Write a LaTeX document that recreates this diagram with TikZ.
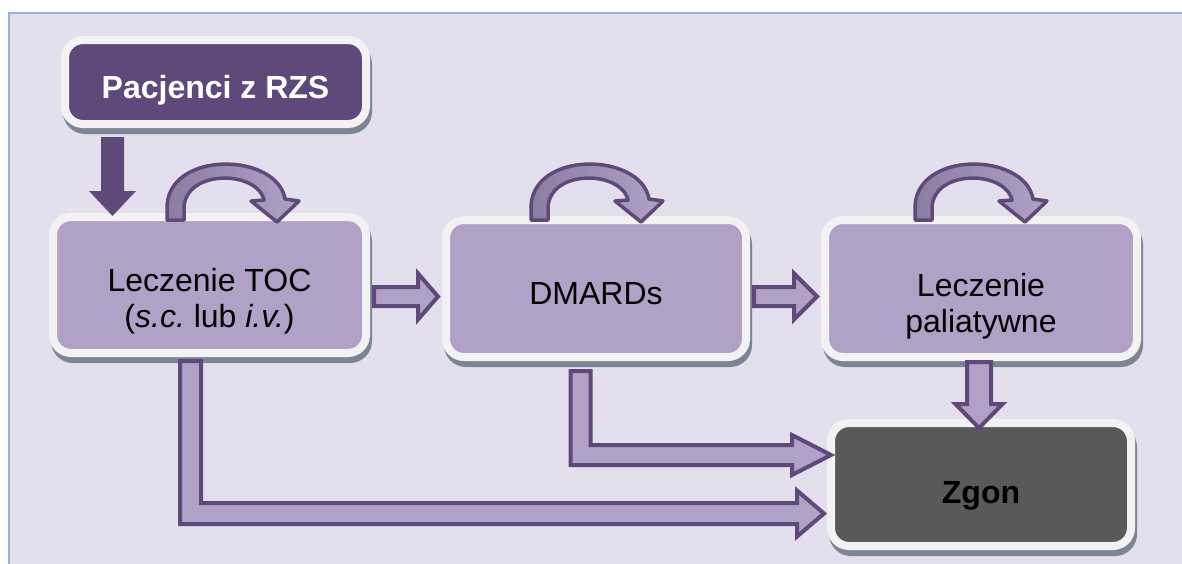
\documentclass[tikz,border=0pt]{standalone}
\usepackage{fontspec}
\setmainfont{Liberation Sans}
\usetikzlibrary{calc,shadows}
\frenchspacing

\definecolor{panelc}{HTML}{E4DFEC}
\definecolor{framec}{HTML}{95B3D7}
\definecolor{boxc}{HTML}{B2A1C7}
\definecolor{darkc}{HTML}{5F497A}
\definecolor{rimc}{HTML}{F2F2F2}
\definecolor{shadec}{HTML}{7D8595}
\definecolor{deathc}{HTML}{595959}
\definecolor{loopc}{HTML}{8C7CA2}

\tikzset{
  stage/.style={rectangle, rounded corners=18pt, draw=rimc, line width=8pt,
    fill=boxc, inner sep=0pt,
    general shadow={fill=shadec, draw=shadec, line width=8pt,
      shadow xshift=2pt, shadow yshift=-6pt}},
  startbox/.style={stage, fill=darkc},
  endbox/.style={stage, fill=deathc},
  caption/.style={inner sep=0pt, align=center, text=black,
    font=\fontsize{32}{36}\selectfont},
  boldcaption/.style={caption, font=\fontsize{32}{36}\selectfont\bfseries},
  blockbody/.style={draw=darkc, fill=boxc, line width=4pt, line join=miter},
  solidbody/.style={fill=darkc},
  loopbody/.style={draw=darkc, line width=3.5pt, line join=round,
    left color=loopc, right color=boxc},
}

% horizontal block arrow: from, to, half shaft, half head, head length, style
\newcommand\harrow[6]{%
  \path[#6] let \p1=(#1), \p2=(#2) in
    (\x1,\y2+#3) -- (\x2-#5,\y2+#3) -- (\x2-#5,\y2+#4) -- (\x2,\y2)
    -- (\x2-#5,\y2-#4) -- (\x2-#5,\y2-#3) -- (\x1,\y2-#3) -- cycle;}
% downward block arrow
\newcommand\varrow[6]{%
  \path[#6] let \p1=(#1), \p2=(#2) in
    (\x1-#3,\y1) -- (\x1-#3,\y2+#5) -- (\x1-#4,\y2+#5) -- (\x1,\y2)
    -- (\x1+#4,\y2+#5) -- (\x1+#3,\y2+#5) -- (\x1+#3,\y1) -- cycle;}
% down-then-right block arrow
\newcommand\elbowarrow[6]{%
  \path[#6] let \p1=(#1), \p2=(#2) in
    (\x1-#3,\y1) -- (\x1-#3,\y2-#3) -- (\x2-#5,\y2-#3) -- (\x2-#5,\y2-#4)
    -- (\x2,\y2) -- (\x2-#5,\y2+#4) -- (\x2-#5,\y2+#3) -- (\x1+#3,\y2+#3)
    -- (\x1+#3,\y1) -- cycle;}
% curved "repeat" arrow sitting on top of a stage
\newcommand\selfloop[1]{%
  \begin{scope}[shift={#1}]
    \path[loopbody] (0,4) -- (0,-8) .. controls (0,-66) and (110,-64) .. (118,-17)
      -- (132,-15) -- (110,6) -- (84,-15) -- (97,-16)
      .. controls (90,-46) and (18,-47) .. (17,-8) -- (17,4) -- cycle;
  \end{scope}}

\begin{document}
\begin{tikzpicture}[x=1pt,y=-1pt]
  \useasboundingbox (0,0) rectangle (1182,563);
  \fill[white] (0,0) rectangle (1182,563);
  \fill[panelc] (9,13) rectangle (1192,573);
  \draw[framec, line width=2pt] (1192,13) -- (9,13) -- (9,573);

  % stages
  \node[startbox, minimum width=301pt, minimum height=84pt] (pac) at (215.5,82) {};
  \node[stage, minimum width=313pt, minimum height=136pt] (toc) at (209.5,285) {};
  \node[stage, minimum width=300pt, minimum height=137pt] (dmards) at (596,288.5) {};
  \node[stage, minimum width=312pt, minimum height=137pt] (pal) at (981,288.5) {};
  \node[endbox, minimum width=300pt, minimum height=123pt] (zgon) at (981,484.5) {};

  % stage texts
  \node[boldcaption, text=white] (pactext) at ($(pac.center)+(0,8)$) {Pacjenci z RZS};
  \node[caption] (toctext) at ($(toc.center)+(0,16)$)
    {Leczenie TOC\\(\textit{s.c.} lub \textit{i.v.})};
  \node[caption] (dmardstext) at ($(dmards.center)+(0,5)$) {DMARDs};
  \node[caption] (paltext) at ($(pal.center)+(0,18)$) {Leczenie\\paliatywne};
  \node[boldcaption] (zgontext) at ($(zgon.center)+(0,11.5)$) {Zgon};

  % repeated treatment
  \selfloop{($(toc.north)+(-42.5,3)$)}
  \selfloop{($(dmards.north)+(-65,0)$)}
  \selfloop{($(pal.north)+(-66,0)$)}

  % transitions
  \varrow{$(pac.south west)+(51.5,9)$}{$(toc.north west)+(63.5,3)$}{11.5pt}{23.5pt}{25pt}{solidbody}
  \harrow{$(toc.east)+(4,11.5)$}{$(dmards.west)+(-4,8)$}{9.5pt}{23pt}{20pt}{blockbody}
  \harrow{$(dmards.east)+(4,8)$}{$(pal.west)+(-4,8)$}{9.5pt}{23pt}{23pt}{blockbody}
  \varrow{$(pal.south)+(-2,1)$}{$(zgon.north)+(-2,9)$}{12pt}{23.5pt}{24pt}{blockbody}
  \elbowarrow{$(dmards.south west)+(138.5,10)$}{$(zgon.west)+(4,-29.5)$}{10pt}{20pt}{39pt}{blockbody}
  \elbowarrow{$(toc.south west)+(141.5,4)$}{$(zgon.west)+(-3,29)$}{10.5pt}{23pt}{27pt}{blockbody}
\end{tikzpicture}
\end{document}
